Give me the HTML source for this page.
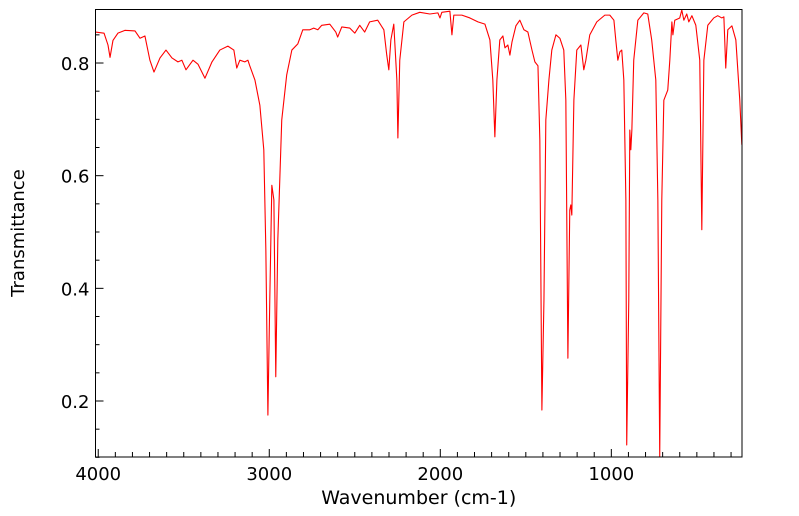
<!DOCTYPE html>
<html><head><meta charset="utf-8"><style>
html,body{margin:0;padding:0;background:#fff;}
svg{display:block;font-family:"DejaVu Sans","Liberation Sans",sans-serif;}
</style></head><body>
<svg id="chart" width="799" height="516"></svg>
<script>
const wavenumbers=[4016,3966,3943,3931,3914,3885,3844,3785,3756,3727,3698,3674,3639,3604,3569,3534,3511,3487,3446,3417,3376,3335,3289,3242,3207,3190,3172,3143,3125,3114,3084,3055,3032,3020,3008,2997,2985,2973,2962,2950,2927,2898,2868,2833,2804,2763,2740,2716,2693,2646,2611,2600,2576,2529,2500,2471,2442,2413,2366,2330,2313,2301,2289,2272,2254,2248,2237,2213,2166,2120,2061,2014,2002,1991,1944,1932,1921,1874,1827,1780,1739,1710,1693,1681,1669,1652,1634,1622,1605,1593,1581,1558,1535,1511,1488,1464,1447,1429,1418,1406,1394,1383,1365,1348,1324,1301,1278,1266,1254,1243,1237,1231,1219,1202,1178,1161,1149,1126,1085,1038,1009,985,974,962,950,939,927,915,910,898,892,886,880,869,845,810,787,764,740,728,717,705,693,670,658,646,640,629,600,588,576,559,547,529,506,483,471,459,436,401,378,354,342,331,319,295,272,249,237];
const transmittance=[0.855,0.853,0.832,0.81,0.84,0.853,0.858,0.857,0.844,0.848,0.805,0.784,0.809,0.823,0.809,0.802,0.805,0.788,0.805,0.798,0.773,0.802,0.823,0.83,0.823,0.791,0.805,0.802,0.805,0.795,0.77,0.725,0.646,0.468,0.175,0.379,0.583,0.557,0.243,0.486,0.699,0.779,0.823,0.834,0.859,0.859,0.862,0.859,0.867,0.869,0.855,0.846,0.864,0.862,0.853,0.867,0.855,0.873,0.876,0.859,0.814,0.788,0.841,0.869,0.77,0.667,0.805,0.873,0.885,0.89,0.887,0.889,0.88,0.89,0.892,0.85,0.885,0.885,0.88,0.873,0.869,0.841,0.77,0.669,0.77,0.841,0.848,0.827,0.832,0.814,0.837,0.866,0.876,0.859,0.855,0.823,0.802,0.795,0.663,0.184,0.379,0.699,0.77,0.823,0.85,0.844,0.823,0.734,0.276,0.539,0.548,0.53,0.734,0.823,0.832,0.788,0.805,0.85,0.873,0.885,0.885,0.876,0.841,0.805,0.82,0.823,0.77,0.557,0.122,0.379,0.681,0.646,0.681,0.805,0.876,0.889,0.887,0.841,0.77,0.557,0.102,0.557,0.734,0.752,0.805,0.873,0.85,0.876,0.88,0.894,0.876,0.887,0.873,0.884,0.867,0.805,0.504,0.805,0.867,0.88,0.884,0.88,0.882,0.791,0.859,0.866,0.841,0.734,0.655];
const xTicks=[4000,3000,2000,1000];
const xTickLabels=["4000","3000","2000","1000"];
const yTicks=[0.2,0.4,0.6,0.8];
const yTickLabels=["0.2","0.4","0.6","0.8"];

const NS="http://www.w3.org/2000/svg";
const svg=document.getElementById('chart');
const L=95.5,R=742,T=9.5,B=457;
const xMax=4016,xMin=236,yMin=0.1006,yMax=0.895;
function xs(w){return L+(xMax-w)/(xMax-xMin)*(R-L);}
function ys(v){return B-(v-yMin)/(yMax-yMin)*(B-T);}
function mk(tag,attrs,name,inter){const e=document.createElementNS(NS,tag);for(const k in attrs)e.setAttribute(k,attrs[k]);


svg.appendChild(e);return e;}
const defs=document.createElementNS(NS,'defs');
defs.innerHTML='<clipPath id="pc"><rect x="'+L+'" y="'+T+'" width="'+(R-L)+'" height="'+(B-T)+'"/></clipPath>';
svg.appendChild(defs);
let d='';
for(let i=0;i<wavenumbers.length;i++){d+=(i?'L':'M')+xs(wavenumbers[i]).toFixed(2)+','+ys(transmittance[i]).toFixed(2);}
mk('path',{d:d,fill:'none',stroke:'#ff0000','stroke-width':1.1,'stroke-linejoin':'round','clip-path':'url(#pc)'},'spectrum-line',false);
mk('rect',{x:L,y:T,width:R-L,height:B-T,fill:'none',stroke:'#000','stroke-width':1},'plot-frame',false);
for(let w=4000;w>=300;w-=100){const x=xs(w);const maj=w%1000===0;
mk('line',{x1:x,x2:x,y1:B,y2:B-(maj?8:5),stroke:'#000','stroke-width':1},maj?'x-major-tick':'x-minor-tick',false);}
xTicks.forEach((w,i)=>{const t=mk('text',{x:xs(w),y:B+23,'text-anchor':'middle','font-size':18,fill:'#000'},'x-tick-label',false);t.textContent=xTickLabels[i];});
for(let k=2;k<=17;k++){const v=k*0.05;const y=ys(v);const maj=k%4===0;
mk('line',{x1:L,x2:L+(maj?8:4),y1:y,y2:y,stroke:'#000','stroke-width':1},maj?'y-major-tick':'y-minor-tick',false);}
yTicks.forEach((v,i)=>{const t=mk('text',{x:L-6,y:ys(v)+7,'text-anchor':'end','font-size':18,fill:'#000'},'y-tick-label',false);t.textContent=yTickLabels[i];});
const xt=mk('text',{x:(L+R)/2,y:504,'text-anchor':'middle','font-size':19,fill:'#000'},'x-axis-title',false);xt.textContent='Wavenumber (cm-1)';
const yt=mk('text',{x:0,y:0,'text-anchor':'middle','font-size':18,fill:'#000',transform:'translate(24,233) rotate(-90)'},'y-axis-title',false);yt.textContent='Transmittance';
</script>
</body></html>
